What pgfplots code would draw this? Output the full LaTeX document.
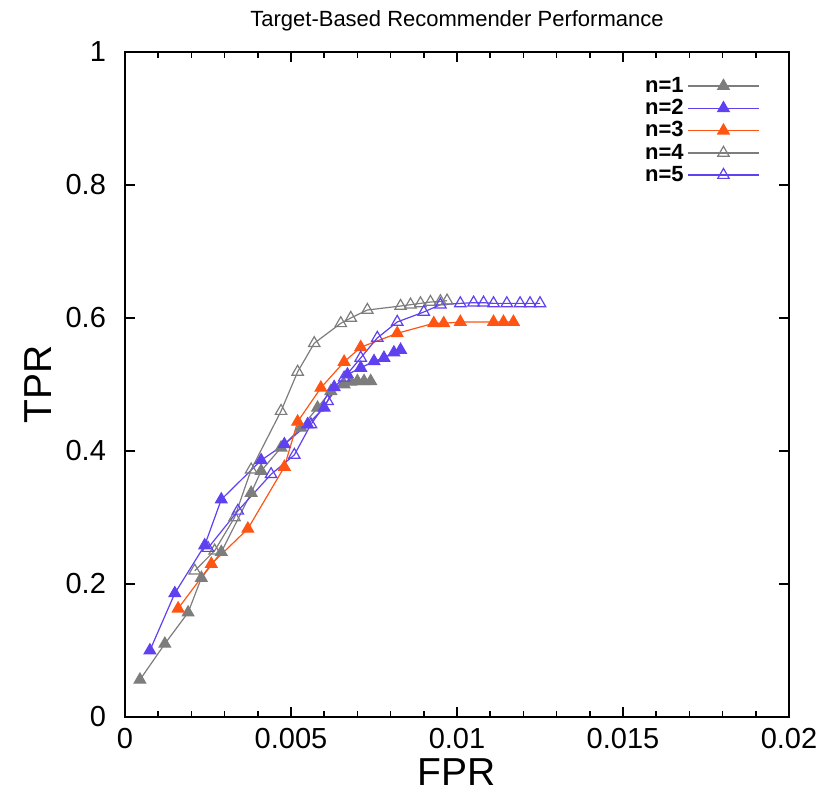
\documentclass[border=0pt]{standalone}
\usepackage{pgfplots}
\pgfplotsset{compat=1.18}
\usepackage{fontspec}
\setmainfont{Liberation Sans}
\definecolor{cgray}{RGB}{125,125,125}
\definecolor{cblue}{RGB}{95,65,240}
\definecolor{corange}{RGB}{255,85,20}
\begin{document}
\begin{tikzpicture}
\useasboundingbox (-62.5pt,-37.5pt) rectangle (350pt,358.5pt);
\begin{axis}[
  at={(0,0)}, anchor=south west,
  scale only axis,
  width=332pt, height=332.5pt,
  xmin=0, xmax=0.02, ymin=0, ymax=1,
  scaled x ticks=false,
  xtick={0,0.005,0.01,0.015,0.02},
  xticklabels={0,0.005,0.01,0.015,0.02},
  minor x tick num=4,
  ytick={0,0.2,0.4,0.6,0.8,1},
  yticklabels={0,0.2,0.4,0.6,0.8,1},
  tick align=inside,
  major tick length=5pt, minor tick length=3pt,
  tick style={black, line width=0.8pt},
  axis line style={line width=0.9pt},
  tick label style={font=\fontsize{14.5}{16}\selectfont},
  xticklabel style={yshift=-2pt},
  yticklabel style={xshift=-6pt},
  xlabel={FPR}, ylabel={TPR},
  label style={font=\fontsize{19.5}{22}\selectfont},
  xlabel style={at={(axis description cs:0.5,-0.083)}, anchor=center},
  ylabel style={at={(axis description cs:-0.131,0.5)}, anchor=center},
  title={Target-Based Recommender Performance},
  title style={font=\fontsize{11}{12}\selectfont, yshift=1pt},
  legend style={draw=none, fill=none, at={(0.965,0.975)}, anchor=north east,
    font=\fontsize{11}{12}\selectfont\bfseries, row sep=-2pt},
  legend plot pos=right,
  legend cell align=right,
  legend image code/.code={\draw[mark repeat=2,mark phase=2] plot coordinates {(0cm,0cm) (0.62cm,0cm) (1.24cm,0cm)};},
  every axis plot/.append style={line width=0.6pt, mark size=3.3pt},
]
\addplot[cgray, mark=triangle*, mark options={fill=cgray, draw=cgray}] coordinates {
(0.00045,0.056)(0.0012,0.110)(0.0019,0.157)(0.0023,0.209)(0.0029,0.248)(0.0038,0.337)(0.0041,0.370)(0.0047,0.405)(0.0053,0.435)(0.0058,0.465)(0.0062,0.490)(0.0066,0.500)(0.0068,0.504)(0.0070,0.505)(0.0072,0.505)(0.0074,0.505)};
\addlegendentry{n=1}
\addplot[cblue, mark=triangle*, mark options={fill=cblue, draw=cblue}] coordinates {
(0.00075,0.100)(0.0015,0.186)(0.0024,0.258)(0.0029,0.327)(0.0041,0.386)(0.0048,0.410)(0.0055,0.440)(0.0060,0.465)(0.0063,0.496)(0.0067,0.515)(0.0071,0.525)(0.0075,0.535)(0.0078,0.540)(0.0081,0.548)(0.0083,0.552)};
\addlegendentry{n=2}
\addplot[corange, mark=triangle*, mark options={fill=corange, draw=corange}] coordinates {
(0.0016,0.163)(0.0026,0.230)(0.0037,0.283)(0.0048,0.376)(0.0052,0.444)(0.0059,0.495)(0.0066,0.534)(0.0071,0.556)(0.0082,0.577)(0.0093,0.592)(0.0096,0.592)(0.0101,0.594)(0.0111,0.594)(0.0114,0.594)(0.0117,0.594)};
\addlegendentry{n=3}
\addplot[cgray, mark=triangle, mark options={draw=cgray, fill=white}] coordinates {
(0.0021,0.220)(0.0027,0.250)(0.0033,0.300)(0.0038,0.372)(0.0047,0.460)(0.0052,0.519)(0.0057,0.562)(0.0065,0.592)(0.0068,0.600)(0.0073,0.612)(0.0083,0.618)(0.0086,0.620)(0.0089,0.622)(0.0092,0.624)(0.0095,0.625)(0.0097,0.626)};
\addlegendentry{n=4}
\addplot[cblue, mark=triangle, mark options={draw=cblue, fill=white}] coordinates {
(0.0025,0.254)(0.0034,0.310)(0.0044,0.365)(0.0051,0.394)(0.0056,0.440)(0.0061,0.475)(0.0066,0.510)(0.0071,0.540)(0.0076,0.570)(0.0082,0.594)(0.0090,0.609)(0.0095,0.620)(0.0101,0.622)(0.0105,0.623)(0.0108,0.623)(0.0111,0.622)(0.0115,0.622)(0.0119,0.622)(0.0122,0.622)(0.0125,0.622)};
\addlegendentry{n=5}
\end{axis}
\end{tikzpicture}
\end{document}
